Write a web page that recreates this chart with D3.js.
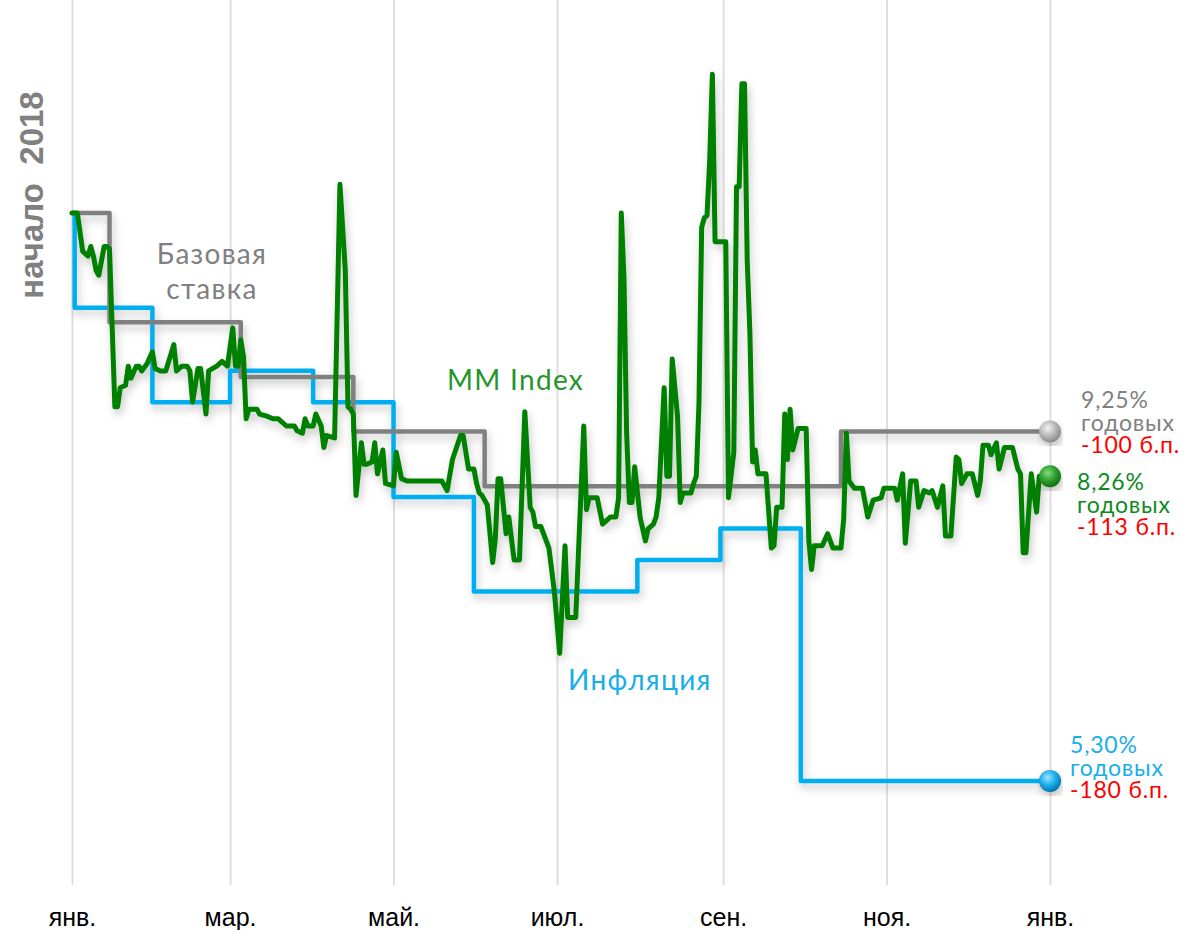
<!DOCTYPE html>
<html>
<head>
<meta charset="utf-8">
<script src="https://cdn.jsdelivr.net/npm/d3@7"></script>
<style>
  html, body { margin: 0; padding: 0; background: #ffffff; }
  svg { display: block; }
</style>
</head>
<body>
<svg id="chart" width="1188" height="930"></svg>
<script>
// ---------------- DATA ----------------
// Month tick labels
const tickDates = ["2018-01-01", "2018-03-01", "2018-05-01", "2018-07-01", "2018-09-01", "2018-11-01", "2019-01-01"];
const tickLabels = ["янв.", "мар.", "май.", "июл.", "сен.", "ноя.", "янв."];

// Base rate (%), step changes
const baseRateDates = ["2018-01-01", "2018-01-15", "2018-03-05", "2018-04-16", "2018-06-04", "2018-10-15", "2019-01-01"];
const baseRateValues = [10.25, 9.75, 9.5, 9.25, 9.0, 9.25, 9.25];

// Inflation (% y/y), step changes
const inflationDates = ["2018-01-01", "2018-01-02", "2018-01-31", "2018-03-01", "2018-04-01", "2018-05-01", "2018-05-31", "2018-07-31", "2018-08-31", "2018-09-30", "2019-01-01"];
const inflationValues = [7.1, 6.8, 6.5, 6.6, 6.5, 6.2, 5.9, 6.0, 6.1, 5.3, 5.3];

// MM Index (%), day of year 2018 and value
const mmDays = [0, 2, 4, 6, 7, 8, 9, 10, 12, 13, 14, 16, 17, 18, 20, 21, 22, 24, 25, 26, 28, 30, 31, 33, 35, 38, 39, 41, 43, 44, 45, 47, 48, 50, 51, 54, 56, 58, 60, 61, 62, 63, 64, 65, 66, 69, 70, 73, 75, 77, 80, 83, 84, 86, 87, 88, 90, 91, 93, 94, 95, 98, 100, 102, 103, 104, 105, 106, 108, 109, 110, 112, 113, 114, 116, 117, 120, 121, 123, 125, 138, 140, 142, 145, 146, 148, 150, 151, 152, 153, 155, 157, 158, 159, 160, 162, 163, 165, 167, 169, 171, 172, 173, 175, 178, 180, 182, 184, 185, 188, 191, 192, 193, 196, 198, 201, 203, 204, 205, 206, 207, 208, 209, 210, 212, 214, 215, 217, 218, 219, 221, 222, 223, 224, 226, 227, 228, 231, 232, 233, 234, 235, 236, 237, 238, 239, 240, 244, 245, 247, 248, 249, 250, 251, 252, 253, 254, 255, 256, 259, 261, 262, 263, 265, 266, 267, 268, 269, 271, 274, 275, 276, 277, 280, 282, 284, 287, 288, 289, 290, 292, 295, 297, 299, 302, 303, 307, 308, 310, 311, 313, 315, 316, 318, 320, 321, 323, 325, 326, 328, 330, 331, 332, 334, 336, 338, 339, 340, 342, 343, 345, 346, 348, 351, 353, 354, 355, 356, 358, 360, 361, 365];
const mmValues = [9.36, 9.36, 9.20, 9.18, 9.22, 9.18, 9.12, 9.10, 9.22, 9.22, 9.21, 8.55, 8.55, 8.63, 8.64, 8.72, 8.67, 8.72, 8.72, 8.70, 8.73, 8.78, 8.71, 8.70, 8.70, 8.81, 8.70, 8.72, 8.72, 8.70, 8.57, 8.71, 8.71, 8.52, 8.70, 8.72, 8.74, 8.72, 8.88, 8.72, 8.72, 8.83, 8.76, 8.50, 8.54, 8.54, 8.52, 8.51, 8.50, 8.50, 8.47, 8.47, 8.45, 8.44, 8.50, 8.47, 8.47, 8.52, 8.47, 8.38, 8.43, 8.42, 9.48, 9.12, 8.55, 8.54, 8.52, 8.18, 8.40, 8.31, 8.31, 8.32, 8.40, 8.27, 8.37, 8.23, 8.22, 8.36, 8.25, 8.24, 8.24, 8.20, 8.33, 8.43, 8.43, 8.29, 8.29, 8.23, 8.19, 8.18, 8.14, 7.90, 8.00, 8.25, 8.25, 8.02, 8.09, 7.91, 7.91, 8.53, 8.13, 8.11, 8.05, 8.05, 7.96, 7.78, 7.52, 7.97, 7.67, 7.67, 8.47, 8.12, 8.17, 8.17, 8.06, 8.09, 8.09, 8.17, 9.36, 9.09, 8.44, 8.15, 8.15, 8.30, 8.09, 7.99, 8.04, 8.06, 8.09, 8.17, 8.63, 8.26, 8.26, 8.75, 8.51, 8.15, 8.19, 8.19, 8.23, 8.26, 8.57, 9.30, 9.34, 9.35, 9.58, 9.94, 9.24, 9.24, 8.17, 8.36, 9.47, 9.47, 9.90, 9.90, 9.16, 8.86, 8.32, 8.37, 8.27, 8.27, 7.96, 7.97, 8.13, 8.13, 8.52, 8.33, 8.54, 8.37, 8.46, 8.46, 7.99, 7.87, 7.97, 7.97, 8.02, 7.96, 7.96, 8.08, 8.44, 8.24, 8.21, 8.21, 8.09, 8.16, 8.17, 8.21, 8.21, 8.16, 8.27, 7.98, 8.24, 8.24, 8.13, 8.20, 8.19, 8.20, 8.13, 8.22, 8.01, 8.01, 8.34, 8.33, 8.23, 8.27, 8.27, 8.18, 8.24, 8.39, 8.39, 8.35, 8.40, 8.29, 8.38, 8.38, 8.29, 8.27, 7.94, 7.94, 8.27, 8.11, 8.26, 8.26];

// End-of-year labels
const endLabels = {
  base: ["9,25%", "годовых", "-100 б.п."],
  mm: ["8,26%", "годовых", "-113 б.п."],
  infl: ["5,30%", "годовых", "-180 б.п."]
};

// ---------------- CHART ----------------
const svg = d3.select("#chart");
const parse = d3.utcParse("%Y-%m-%d");
const start = parse("2018-01-01");

const COLORS = { base: "#808080", infl: "#00aeef", mm: "#008000", red: "#ff0000" };

const x = d3.scaleUtc().domain([start, parse("2019-01-01")]).range([72, 1050]);
// relative level vs. start of 2018
const y = d3.scaleLinear().domain([0.7, 1.0]).range([885, 213]);

function series(dates, values) {
  return dates.map((d, i) => ({ date: d, ratio: values[i] / values[0] }));
}
const baseData = series(baseRateDates.map(parse), baseRateValues);
const inflData = series(inflationDates.map(parse), inflationValues);
const mmData = series(mmDays.map(d => d3.utcDay.offset(start, d)), mmValues);

const defs = svg.append("defs");
const shadow = defs.append("filter").attr("id", "shadow")
  .attr("x", "-5%").attr("y", "-5%").attr("width", "110%").attr("height", "120%");
shadow.append("feDropShadow").attr("dx", 2).attr("dy", 5).attr("stdDeviation", 4)
  .attr("flood-color", "#000").attr("flood-opacity", 0.22);

function sphere(id, light, mid, dark) {
  const g = defs.append("radialGradient").attr("id", id)
    .attr("cx", "40%").attr("cy", "35%").attr("r", "65%");
  g.append("stop").attr("offset", "0%").attr("stop-color", light);
  g.append("stop").attr("offset", "55%").attr("stop-color", mid);
  g.append("stop").attr("offset", "100%").attr("stop-color", dark);
}
sphere("gBase", "#f4f4f4", "#b8b8b8", "#8a8a8a");
sphere("gMM", "#7fdc7f", "#2fa02f", "#126f12");
sphere("gInfl", "#9fe4ff", "#1aaeea", "#0477b0");

// Gridlines + month labels
const tickVals = tickDates.map(parse);
const xAxis = d3.axisBottom(x).tickValues(tickVals).tickFormat((d, i) => tickLabels[i]).tickSize(-885).tickPadding(0);
const axisG = svg.append("g").attr("transform", "translate(0,885)").call(xAxis);
axisG.select(".domain").remove();
axisG.selectAll(".tick line").attr("stroke", "#dedede").attr("stroke-width", 2);
axisG.selectAll(".tick text")
  .attr("y", 41)
  .attr("dy", 0)
  .attr("fill", "#000")
  .style("font-family", "'Liberation Sans', Arial, sans-serif")
  .style("font-size", "25px");

// Lines
const line = d3.line().x(d => x(d.date)).y(d => y(d.ratio));
const stepLine = d3.line().x(d => x(d.date)).y(d => y(d.ratio)).curve(d3.curveStepAfter);

const linesG = svg.append("g").attr("filter", "url(#shadow)");
linesG.append("path").datum(inflData).attr("d", stepLine)
  .attr("fill", "none").attr("stroke", COLORS.infl).attr("stroke-width", 4.5).attr("stroke-linejoin", "round");
linesG.append("path").datum(baseData).attr("d", stepLine)
  .attr("fill", "none").attr("stroke", COLORS.base).attr("stroke-width", 4.5).attr("stroke-linejoin", "round");
linesG.append("path").datum(mmData).attr("d", line)
  .attr("fill", "none").attr("stroke", COLORS.mm).attr("stroke-width", 5).attr("stroke-linejoin", "round").attr("stroke-linecap", "round");

// End dots
const ends = [
  { d: baseData[baseData.length - 1], fill: "url(#gBase)" },
  { d: mmData[mmData.length - 1], fill: "url(#gMM)" },
  { d: inflData[inflData.length - 1], fill: "url(#gInfl)" }
];
svg.append("g").selectAll("circle").data(ends).join("circle")
  .attr("cx", e => x(e.d.date)).attr("cy", e => y(e.d.ratio)).attr("r", 11)
  .attr("fill", e => e.fill).attr("filter", "url(#shadow)");

// Series labels
const labelFont = "Lato, 'Open Sans', sans-serif";
const baseLabel = svg.append("text").attr("text-anchor", "middle")
  .attr("fill", COLORS.base).style("font-family", labelFont).style("font-size", "28px").style("letter-spacing", "1.3px");
baseLabel.append("tspan").attr("x", 212).attr("y", 264).text("Базовая");
baseLabel.append("tspan").attr("x", 212).attr("y", 299).text("ставка");

svg.append("text").attr("x", 447).attr("y", 390).attr("fill", "#23952a")
  .style("font-family", labelFont).style("font-size", "28px").style("letter-spacing", "1.3px").text("MM Index");

svg.append("text").attr("x", 568).attr("y", 690).attr("fill", "#19aee9")
  .style("font-family", labelFont).style("font-size", "28px").style("letter-spacing", "1.3px").text("Инфляция");

svg.append("text").attr("transform", "translate(43,195) rotate(-90)").attr("text-anchor", "middle")
  .attr("fill", "#808080").style("font-family", "'Liberation Sans', Arial, sans-serif")
  .style("font-weight", "bold").style("font-size", "33px").attr("xml:space", "preserve").text("начало  2018");

// End labels
function endLabel(lines, x0, yBase, color) {
  const ys = [yBase, yBase + 23, yBase + 45];
  const cols = [color, color, COLORS.red];
  const t = svg.append("text").style("font-family", labelFont).style("font-size", "23px").style("letter-spacing", "0.8px");
  lines.forEach((s, i) => {
    t.append("tspan").attr("x", x0).attr("y", ys[i]).attr("fill", cols[i]).text(s);
  });
}
endLabel(endLabels.base, 1081, y(baseData[baseData.length - 1].ratio) - 24, COLORS.base);
endLabel(endLabels.mm, 1077, y(mmData[mmData.length - 1].ratio) + 14, "#0e8a1e");
endLabel(endLabels.infl, 1070, y(inflData[inflData.length - 1].ratio) - 28, "#19aee9");
</script>
</body>
</html>
